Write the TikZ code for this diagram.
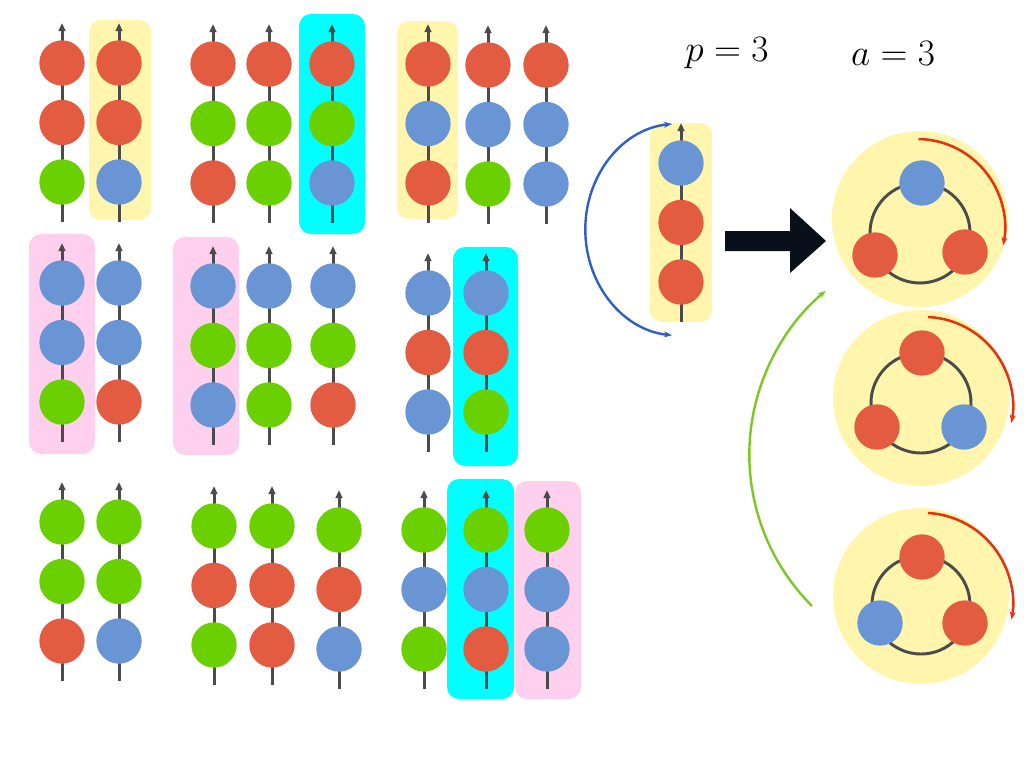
\RequirePackage{fix-cm}
\documentclass[tikz,border=0pt]{standalone}
\usetikzlibrary{arrows.meta,calc}
\definecolor{cR}{HTML}{E35C41}
\definecolor{cG}{HTML}{6BD000}
\definecolor{cB}{HTML}{6A95D5}
\definecolor{cY}{HTML}{FFF5AD}
\definecolor{cC}{HTML}{00FFFF}
\definecolor{cP}{HTML}{FFD0EE}
\definecolor{cL}{HTML}{4B4B4B}
\definecolor{arcB}{HTML}{2D5ECC}
\definecolor{arcG}{HTML}{7CC820}
\definecolor{arcR}{HTML}{E8300A}
\definecolor{dark}{HTML}{0A101A}
\tikzset{
  bead/.style={circle,inner sep=0pt,minimum size=34pt,draw=none},
  chainline/.style={cL,line width=2.25pt,-{Triangle[length=6pt,width=5pt]}},
  hbox/.style={rounded corners=9pt},
  disk/.style={circle,fill=cY,inner sep=0pt,minimum size=132pt,draw=none},
  ring/.style={cL,line width=2.2pt},
  redarc/.style={arcR,line width=1.9pt,-{Stealth[length=6pt,width=4.5pt]}},
  bluearc/.style={arcB,line width=1.8pt,{Stealth[length=6pt,width=4.5pt]}-{Stealth[length=6pt,width=4.5pt]}},
  greenarc/.style={arcG,line width=1.8pt,-{Stealth[length=6pt,width=4.5pt]}},
  lbl/.style={font=\fontsize{28}{32}\selectfont,inner sep=0pt}
}
\newcommand{\chainof}[6]{%
  \coordinate (#1t) at (#2,#3-40);
  \coordinate (#1b) at (#2,#3+159);
  \draw[chainline] (#1b) -- (#1t);
  \node[bead,fill=#4] (#1a) at (#2,#3) {};
  \node[bead,fill=#5] (#1m) at (#2,#3+59.5) {};
  \node[bead,fill=#6] (#1z) at (#2,#3+119) {};
}
\begin{document}
\begin{tikzpicture}[x=0.75pt,y=-0.75pt]
\useasboundingbox (0,0) rectangle (1024,768);
% highlight boxes
\fill[hbox,cY] (89,20) rectangle (151,220);
\fill[hbox,cY] (397,21) rectangle (458,219);
\fill[hbox,cY] (650,123) rectangle (712,322);
\fill[hbox,cC] (299,14) rectangle (365,234);
\fill[hbox,cC] (453,247) rectangle (518,466);
\fill[hbox,cC] (447,479) rectangle (514,699);
\fill[hbox,cP] (29,234) rectangle (95,454);
\fill[hbox,cP] (173,237) rectangle (239,455);
\fill[hbox,cP] (515,481) rectangle (581,699);
% row 1
\chainof{ra}{62}{63}{cR}{cR}{cG}
\chainof{rb}{119}{63}{cR}{cR}{cB}
\chainof{rc}{213}{64}{cR}{cG}{cR}
\chainof{rd}{269}{64}{cR}{cG}{cG}
\chainof{re}{332}{64}{cR}{cG}{cB}
\chainof{rf}{428}{64}{cR}{cB}{cR}
\chainof{rg}{488}{65}{cR}{cB}{cG}
\chainof{rh}{546}{65}{cR}{cB}{cB}
% row 2
\chainof{sa}{62}{283}{cB}{cB}{cG}
\chainof{sb}{119}{283}{cB}{cB}{cR}
\chainof{sc}{213}{286}{cB}{cG}{cB}
\chainof{sd}{269}{286}{cB}{cG}{cG}
\chainof{se}{333}{286}{cB}{cG}{cR}
\chainof{sf}{428}{293}{cB}{cR}{cB}
\chainof{sg}{486}{293}{cB}{cR}{cG}
% row 3
\chainof{ta}{62}{522}{cG}{cG}{cR}
\chainof{tb}{119}{522}{cG}{cG}{cB}
\chainof{tc}{214}{526}{cG}{cR}{cG}
\chainof{td}{272}{526}{cG}{cR}{cR}
\chainof{te}{339}{530}{cG}{cR}{cB}
\chainof{tf}{424}{530}{cG}{cB}{cG}
\chainof{tg}{486}{530}{cG}{cB}{cR}
\chainof{th}{547}{530}{cG}{cB}{cB}
% middle chain
\chainof{mc}{681}{163}{cB}{cR}{cR}
% labels
\node[lbl] (p) at (727,53) {$p=3$};
\node[lbl] (a) at (893,53) {$a=3$};
% blue arc
\coordinate (bs) at (672,124);
\draw[bluearc] (bs) arc[start angle=-95,end angle=-265,x radius=95,y radius=106];
% big arrow
\fill[dark] (725,231) -- (790,231) -- (790,208) -- (826,241) -- (790,273) -- (790,251) -- (725,251) -- cycle;
% disks
\node[disk] (d1) at (920,219) {};
\node[disk] (d2) at (921,398) {};
\node[disk] (d3) at (921,596) {};
\draw[ring] (920,233) circle[radius=50];
\draw[ring] (921,403) circle[radius=50];
\draw[ring] (921,605) circle[radius=49];
\node[bead,fill=cB] (d1a) at (922,183) {};
\node[bead,fill=cR] (d1b) at (875,255) {};
\node[bead,fill=cR] (d1c) at (965,252) {};
\node[bead,fill=cR] (d2a) at (922,353) {};
\node[bead,fill=cR] (d2b) at (877,427) {};
\node[bead,fill=cB] (d2c) at (964,427) {};
\node[bead,fill=cR] (d3a) at (922,557) {};
\node[bead,fill=cB] (d3b) at (880,623) {};
\node[bead,fill=cR] (d3c) at (965,623) {};
% red arcs
\coordinate (r1) at (918.5,139);
\coordinate (r2) at (928,317);
\coordinate (r3) at (928,513);
\draw[redarc] (r1) arc[start angle=-89,end angle=12,radius=88];
\draw[redarc] (r2) arc[start angle=-87.4,end angle=11,radius=89];
\draw[redarc] (r3) arc[start angle=-86.8,end angle=10.7,radius=90];
% green arc
\coordinate (gs) at (812,606);
\draw[greenarc] (gs) arc[start angle=135,end angle=230,radius=214];
\end{tikzpicture}
\end{document}
